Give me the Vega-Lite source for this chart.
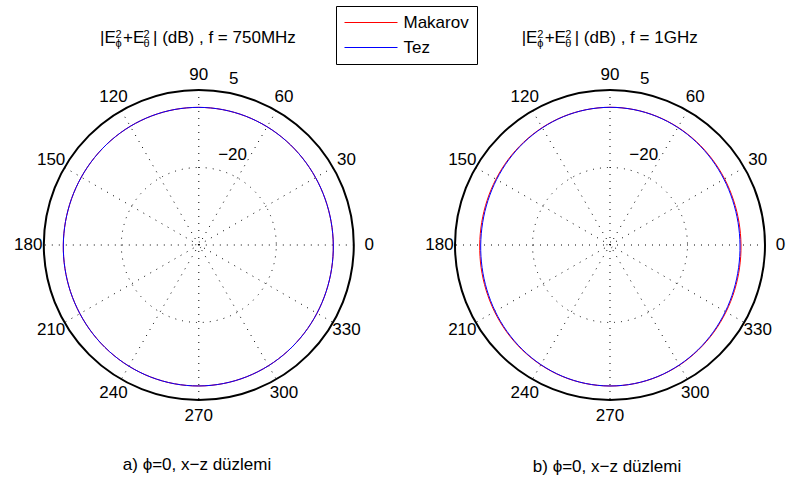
{
  "$schema": "https://vega.github.io/schema/vega-lite/v6.json",
  "width": 794,
  "height": 482,
  "autosize": {"type": "fit", "contains": "padding"},
  "padding": 0,
  "background": "white",
  "config": {
    "view": {"stroke": null},
    "font": "Liberation Sans",
    "text": {"font": "Liberation Sans", "fontSize": 17, "fill": "black"}
  },
  "datasets": {
    "curves": [
      {"panel": "a", "series": "Makarov", "angle": [0,10,20,30,40,50,60,70,80,90,100,110,120,130,140,150,160,170,180,190,200,210,220,230,240,250,260,270,280,290,300,310,320,330,340,350],
       "dB": [-1.61,-1.66,-1.62,-1.51,-1.35,-1.15,-0.95,-0.78,-0.66,-0.6,-0.6,-0.67,-0.79,-0.94,-1.1,-1.23,-1.32,-1.34,-1.29,-1.16,-0.95,-0.7,-0.41,-0.13,0.13,0.33,0.45,0.47,0.39,0.22,-0.03,-0.33,-0.66,-0.98,-1.26,-1.48]},
      {"panel": "a", "series": "Tez", "angle": [0,10,20,30,40,50,60,70,80,90,100,110,120,130,140,150,160,170,180,190,200,210,220,230,240,250,260,270,280,290,300,310,320,330,340,350],
       "dB": [-1.61,-1.66,-1.62,-1.51,-1.35,-1.15,-0.95,-0.78,-0.66,-0.6,-0.6,-0.67,-0.79,-0.94,-1.1,-1.23,-1.32,-1.34,-1.29,-1.16,-0.95,-0.7,-0.41,-0.13,0.13,0.33,0.45,0.47,0.39,0.22,-0.03,-0.33,-0.66,-0.98,-1.26,-1.48]},
      {"panel": "b", "series": "Makarov", "angle": [0,10,20,30,40,50,60,70,80,90,100,110,120,130,140,150,160,170,180,190,200,210,220,230,240,250,260,270,280,290,300,310,320,330,340,350],
       "dB": [-2.74,-2.75,-2.61,-2.32,-1.95,-1.55,-1.16,-0.84,-0.64,-0.58,-0.68,-0.91,-1.27,-1.69,-2.12,-2.52,-2.82,-2.98,-2.97,-2.79,-2.46,-1.99,-1.44,-0.88,-0.35,0.09,0.37,0.48,0.41,0.17,-0.23,-0.73,-1.26,-1.79,-2.24,-2.57]},
      {"panel": "b", "series": "Tez", "angle": [0,10,20,30,40,50,60,70,80,90,100,110,120,130,140,150,160,170,180,190,200,210,220,230,240,250,260,270,280,290,300,310,320,330,340,350],
       "dB": [-3.06,-3.06,-2.89,-2.56,-2.14,-1.68,-1.24,-0.88,-0.65,-0.58,-0.69,-0.95,-1.35,-1.82,-2.31,-2.76,-3.1,-3.29,-3.29,-3.1,-2.74,-2.23,-1.63,-1.01,-0.43,0.05,0.36,0.48,0.4,0.13,-0.31,-0.86,-1.45,-2.03,-2.52,-2.88]}
    ]
  },
  "encoding": {
    "x": {"field": "x", "type": "quantitative", "axis": null, "scale": {"domain": [-1.28258, 3.84], "nice": false, "zero": false}},
    "y": {"field": "y", "type": "quantitative", "axis": null, "scale": {"domain": [-1.52903, 1.58065], "nice": false, "zero": false}}
  },
  "layer": [
    {
      "data": {"values": [{"panel": "a", "level": -20}, {"panel": "a", "level": -44}, {"panel": "b", "level": -20}, {"panel": "b", "level": -44}]},
      "transform": [
        {"calculate": "datum.panel === 'a' ? 0 : 2.6529", "as": "x"},
        {"calculate": "0", "as": "y"},
        {"calculate": "(datum.level + 45) / 50", "as": "rn"}
      ],
      "mark": {"type": "arc", "filled": false, "stroke": "black", "strokeWidth": 1, "strokeDash": [1, 6], "theta": 0, "theta2": 6.2832},
      "encoding": {"radius": {"field": "rn", "type": "quantitative", "stack": null, "scale": {"type": "linear", "domain": [0, 1], "range": [0, 155], "zero": true}}}
    },
    {
      "data": {"values": [{"panel": "a", "angle": [0, 30, 60, 90, 120, 150]}, {"panel": "b", "angle": [0, 30, 60, 90, 120, 150]}]},
      "transform": [
        {"flatten": ["angle"]},
        {"calculate": "datum.panel === 'a' ? 0 : 2.6529", "as": "cx"},
        {"calculate": "datum.cx + cos(datum.angle * PI / 180)", "as": "x"},
        {"calculate": "datum.cx - cos(datum.angle * PI / 180)", "as": "x2"},
        {"calculate": "sin(datum.angle * PI / 180)", "as": "y"},
        {"calculate": "-sin(datum.angle * PI / 180)", "as": "y2"}
      ],
      "mark": {"type": "rule", "color": "black", "strokeWidth": 1, "strokeDash": [1, 6]},
      "encoding": {"x2": {"field": "x2"}, "y2": {"field": "y2"}}
    },
    {
      "data": {"values": [{"panel": "a", "level": 5}, {"panel": "b", "level": 5}]},
      "transform": [
        {"calculate": "datum.panel === 'a' ? 0 : 2.6529", "as": "x"},
        {"calculate": "0", "as": "y"},
        {"calculate": "(datum.level + 45) / 50", "as": "rn"}
      ],
      "mark": {"type": "arc", "filled": false, "stroke": "black", "strokeWidth": 2, "theta": 0, "theta2": 6.2832},
      "encoding": {"radius": {"field": "rn", "type": "quantitative", "stack": null, "scale": {"type": "linear", "domain": [0, 1], "range": [0, 155], "zero": true}}}
    },
    {
      "data": {"name": "curves"},
      "transform": [
        {"filter": "datum.series === 'Makarov'"},
        {"flatten": ["angle", "dB"]},
        {"calculate": "datum.panel === 'a' ? 0 : 2.6529", "as": "cx"},
        {"calculate": "(datum.dB + 45) / 50", "as": "rn"},
        {"calculate": "datum.cx + datum.rn * cos(datum.angle * PI / 180)", "as": "x"},
        {"calculate": "datum.rn * sin(datum.angle * PI / 180)", "as": "y"}
      ],
      "mark": {"type": "line", "interpolate": "cardinal-closed", "strokeWidth": 1},
      "encoding": {
        "color": {"field": "series", "type": "nominal",
          "scale": {"domain": ["Makarov", "Tez"], "range": ["#ff0000", "#0000ff"]},
          "legend": {"title": null, "orient": "none", "legendX": 336, "legendY": 6, "padding": 8, "strokeColor": "black", "fillColor": "white", "symbolType": "stroke", "symbolSize": 2809, "symbolStrokeWidth": 1, "clipHeight": 17, "labelFontSize": 17, "labelFont": "Liberation Sans", "labelColor": "black", "labelOffset": 5.5, "rowPadding": 7, "cornerRadius": 0}},
        "detail": {"field": "panel"},
        "order": {"field": "angle", "type": "quantitative"}
      }
    },
    {
      "data": {"name": "curves"},
      "transform": [
        {"filter": "datum.series === 'Tez'"},
        {"flatten": ["angle", "dB"]},
        {"calculate": "datum.panel === 'a' ? 0 : 2.6529", "as": "cx"},
        {"calculate": "(datum.dB + 45) / 50", "as": "rn"},
        {"calculate": "datum.cx + datum.rn * cos(datum.angle * PI / 180)", "as": "x"},
        {"calculate": "datum.rn * sin(datum.angle * PI / 180)", "as": "y"}
      ],
      "mark": {"type": "line", "interpolate": "cardinal-closed", "strokeWidth": 1},
      "encoding": {
        "color": {"field": "series", "type": "nominal",
          "scale": {"domain": ["Makarov", "Tez"], "range": ["#ff0000", "#0000ff"]},
          "legend": {"title": null, "orient": "none", "legendX": 336, "legendY": 6, "padding": 8, "strokeColor": "black", "fillColor": "white", "symbolType": "stroke", "symbolSize": 2809, "symbolStrokeWidth": 1, "clipHeight": 17, "labelFontSize": 17, "labelFont": "Liberation Sans", "labelColor": "black", "labelOffset": 5.5, "rowPadding": 7, "cornerRadius": 0}},
        "detail": {"field": "panel"},
        "order": {"field": "angle", "type": "quantitative"}
      }
    },
    {
      "data": {"values": [{"panel": "a", "angle": [0, 30, 60, 90, 120, 150, 180, 210, 240, 270, 300, 330]}, {"panel": "b", "angle": [0, 30, 60, 90, 120, 150, 180, 210, 240, 270, 300, 330]}]},
      "transform": [
        {"flatten": ["angle"]},
        {"calculate": "datum.panel === 'a' ? 0 : 2.6529", "as": "cx"},
        {"calculate": "datum.cx + 1.1 * cos(datum.angle * PI / 180)", "as": "x"},
        {"calculate": "1.1 * sin(datum.angle * PI / 180)", "as": "y"}
      ],
      "mark": {"type": "text", "align": "center", "baseline": "middle"},
      "encoding": {"text": {"field": "angle", "type": "quantitative", "format": "d"}}
    },
    {
      "data": {"values": [{"panel": "a", "level": [5, -20]}, {"panel": "b", "level": [5, -20]}]},
      "transform": [
        {"flatten": ["level"]},
        {"calculate": "datum.panel === 'a' ? 0 : 2.6529", "as": "cx"},
        {"calculate": "(datum.level + 45) / 50 + 0.025", "as": "rn"},
        {"calculate": "datum.cx + datum.rn * cos(82 * PI / 180)", "as": "x"},
        {"calculate": "datum.rn * sin(82 * PI / 180)", "as": "y"}
      ],
      "mark": {"type": "text", "align": "left", "baseline": "bottom", "dx": 8},
      "encoding": {"text": {"field": "level", "type": "quantitative", "format": "d"}}
    },
    {
      "data": {"values": [{"panel": "a", "freq": "750MHz"}, {"panel": "b", "freq": "1GHz"}]},
      "transform": [
        {"calculate": "datum.panel === 'a' ? -0.6374 : 2.0832", "as": "x"},
        {"calculate": "1.3032", "as": "y"},
        {"calculate": "'| (dB) , f = ' + datum.freq", "as": "tail"}
      ],
      "layer": [
        {"mark": {"type": "text", "align": "left", "baseline": "alphabetic", "text": "|E"}},
        {"mark": {"type": "text", "align": "left", "baseline": "alphabetic", "text": "2", "fontSize": 11, "dx": 15.5, "dy": -5}},
        {"mark": {"type": "text", "align": "left", "baseline": "alphabetic", "text": "ϕ", "fontSize": 11, "dx": 15.5, "dy": 4}},
        {"mark": {"type": "text", "align": "left", "baseline": "alphabetic", "text": "+E", "dx": 23}},
        {"mark": {"type": "text", "align": "left", "baseline": "alphabetic", "text": "2", "fontSize": 11, "dx": 43.5, "dy": -5}},
        {"mark": {"type": "text", "align": "left", "baseline": "alphabetic", "text": "θ", "fontSize": 11, "dx": 43.5, "dy": 4}},
        {"mark": {"type": "text", "align": "left", "baseline": "alphabetic", "dx": 53}, "encoding": {"text": {"field": "tail"}}}
      ]
    },
    {
      "data": {"values": [{"panel": "a", "cap": "a) ϕ=0, x−z düzlemi"}, {"panel": "b", "cap": "b) ϕ=0, x−z düzlemi"}]},
      "transform": [
        {"calculate": "datum.panel === 'a' ? -0.0116 : 2.6335", "as": "x"},
        {"calculate": "datum.panel === 'a' ? -1.4516 : -1.4645", "as": "y"}
      ],
      "mark": {"type": "text", "align": "center", "baseline": "alphabetic"},
      "encoding": {"text": {"field": "cap"}}
    }
  ]
}
